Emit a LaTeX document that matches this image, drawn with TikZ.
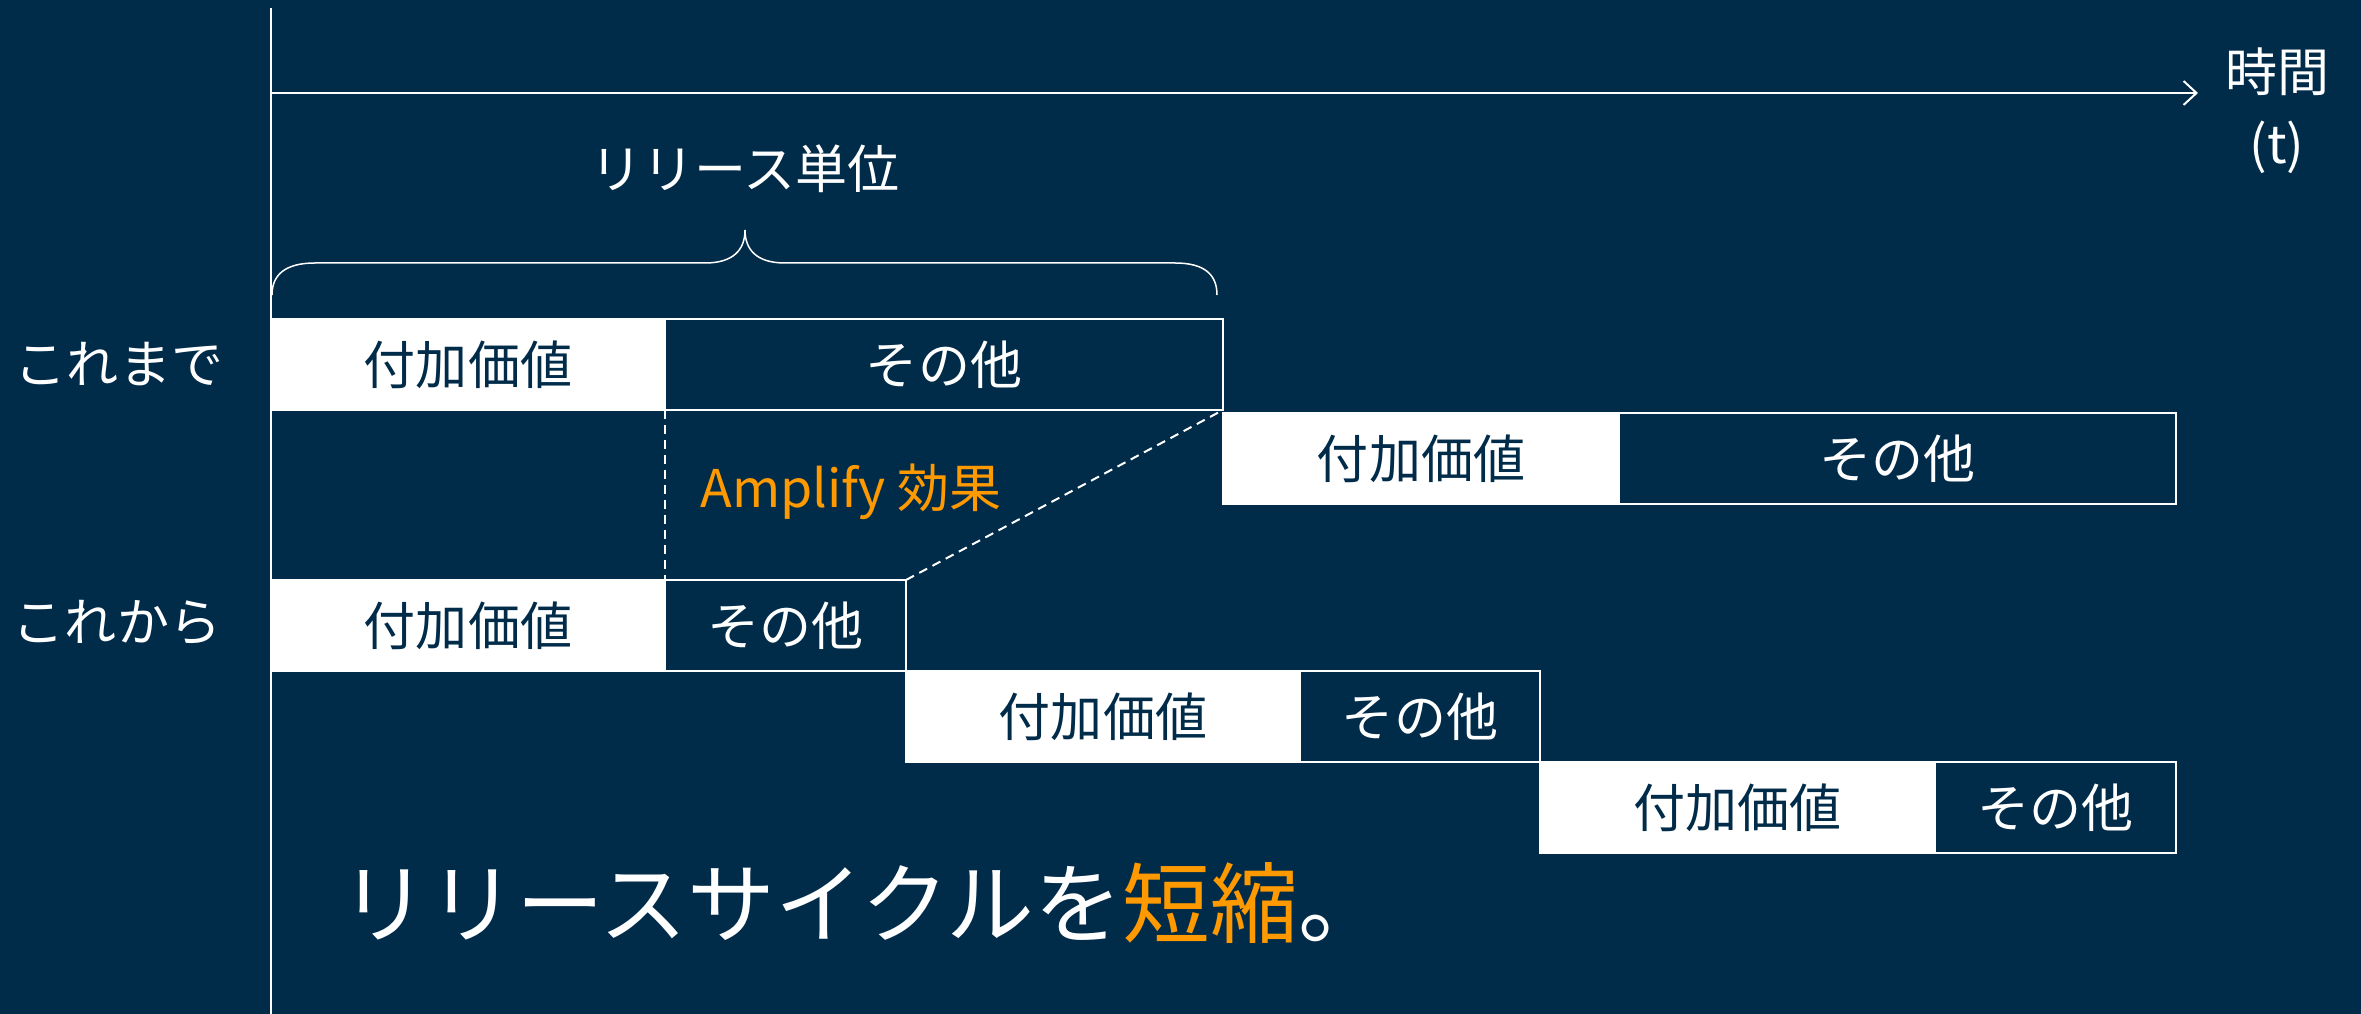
\documentclass[tikz,border=0pt]{standalone}
\usepackage{fontspec}
\setmainfont{Noto Sans CJK JP}
\usetikzlibrary{arrows.meta,positioning}
\definecolor{navy}{HTML}{002B49}
\definecolor{amber}{HTML}{FF9900}
\newcommand{\midtext}{\fontsize{14.8}{20.5}\selectfont}
\newcommand{\bigtext}{\fontsize{25}{30}\selectfont}

\begin{document}
\begin{tikzpicture}[
   valbox/.style={fill=white,draw=white,line width=0.025cm,text=navy,minimum height=0.91cm,inner sep=0pt,outer sep=0pt,font=\midtext},
   restbox/.style={fill=navy,draw=white,line width=0.025cm,text=white,minimum height=0.91cm,inner sep=0pt,outer sep=0pt,font=\midtext},
   rowlabel/.style={text=white,font=\midtext},
   ]
   \fill[color=navy] (0,0) rectangle (23.61,-10.14);
   \useasboundingbox (0,0) rectangle (23.61,-10.14);

   % axes
   \coordinate (ytop) at (2.71,-0.08);
   \coordinate (ybot) at (2.71,-10.14);
   \coordinate (t0) at (2.71,-0.93);
   \coordinate (t1) at (21.98,-0.93);
   \draw[color=white,line width=0.02cm] (ytop) -- (ybot);
   \draw[color=white,line width=0.02cm,-{Straight Barb[length=0.13cm,width=0.24cm]}] (t0) -- (t1);
   \node[rowlabel,align=center] (time) at (22.77,-1.11) {時間\\(t)};

   % release unit
   \node[rowlabel] (unit) at (7.45,-1.69) {リリース単位};
   \draw[color=white,line width=0.015cm] (2.72,-2.95) .. controls (2.72,-2.75) and (2.85,-2.63) .. (3.15,-2.63)
      -- (7.05,-2.63) .. controls (7.33,-2.63) and (7.45,-2.5) .. (7.45,-2.30)
      .. controls (7.45,-2.5) and (7.57,-2.63) .. (7.85,-2.63)
      -- (11.75,-2.63) .. controls (12.05,-2.63) and (12.17,-2.75) .. (12.17,-2.95);

   % until now
   \node[rowlabel] (before) at (1.19,-3.645) {これまで};
   \node[valbox,minimum width=3.94cm,anchor=north west] (a1) at (2.71,-3.19) {付加価値};
   \node[restbox,minimum width=5.58cm,right=0pt of a1] (a2) {その他};
   \node[valbox,minimum width=3.96cm,anchor=north west] (b1) at ([yshift=-0.03cm]a2.south east) {付加価値};
   \node[restbox,minimum width=5.57cm,right=0pt of b1] (b2) {その他};

   % from now on
   \node[rowlabel] (after) at (1.17,-6.23) {これから};
   \node[valbox,minimum width=3.94cm,anchor=north west] (c1) at (2.71,-5.80) {付加価値};
   \node[restbox,minimum width=2.41cm,right=0pt of c1] (c2) {その他};
   \node[valbox,minimum width=3.94cm,anchor=north west] (d1) at (c2.south east) {付加価値};
   \node[restbox,minimum width=2.40cm,right=0pt of d1] (d2) {その他};
   \node[valbox,minimum width=3.95cm,anchor=north west] (e1) at (d2.south east) {付加価値};
   \node[restbox,minimum width=2.41cm,right=0pt of e1] (e2) {その他};

   % effect
   \draw[color=white,line width=0.02cm,dash pattern=on 0.09cm off 0.06cm] (a1.south east) -- (c1.north east);
   \draw[color=white,line width=0.02cm,dash pattern=on 0.09cm off 0.06cm] (c2.north east) -- (a2.south east);
   \node[text=amber,font=\midtext] (gain) at (8.51,-4.92) {Amplify 効果};

   \node[text=white,font=\bigtext,anchor=west,inner sep=0pt] (slogan) at (3.40,-9.03) {リリースサイクルを\textcolor{amber}{短縮}。};
\end{tikzpicture}
\end{document}
